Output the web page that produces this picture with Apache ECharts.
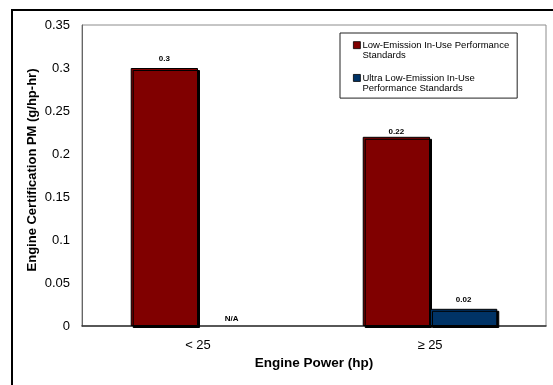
<!DOCTYPE html>
<html>
<head>
<meta charset="utf-8">
<script src="https://cdn.jsdelivr.net/npm/echarts@6/dist/echarts.min.js"></script>
<style>html,body{margin:0;padding:0;background:#fff}#c{width:553px;height:385px}</style>
</head>
<body>
<div id="c"></div>
<script>
const categories = ['< 25', '≥ 25'];
const seriesNames = ['Low-Emission In-Use Performance Standards', 'Ultra Low-Emission In-Use Performance Standards'];
const lowValues = [0.3, 0.22];
const lowLabels = ['0.3', '0.22'];
const ultraValues = [0, 0.02];
const ultraLabels = ['N/A', '0.02'];
const yTicks = { min: 0, max: 0.35, interval: 0.05 };

const FONT = "'Liberation Sans', Arial, sans-serif";
const chart = echarts.init(document.getElementById('c'));

const barStyle = (color) => ({
  color: color, borderColor: '#000', borderWidth: 1,
  shadowColor: '#000', shadowOffsetX: 2, shadowOffsetY: 2, shadowBlur: 0
});
const lblStyle = { show: true, position: 'top', distance: 5, color: '#000', fontSize: 8, fontWeight: 'bold', fontFamily: FONT };

chart.setOption({
  animation: false,
  backgroundColor: '#fff',
  graphic: [{
    type: 'rect', shape: { x: 12, y: 10, width: 700, height: 500 },
    style: { fill: 'none', stroke: '#000', lineWidth: 2 }, silent: true, z: 100
  }],
  grid: { left: 82, top: 25, right: 7, bottom: 59, show: true, borderColor: '#8c8c8c', borderWidth: 1, backgroundColor: '#fff' },
  legend: {
    orient: 'vertical', left: 340, top: 33, width: 181,
    backgroundColor: '#fff', borderColor: '#222', borderWidth: 1,
    padding: [6.5, 8, 4, 13], itemWidth: 7, itemHeight: 21, itemGap: 11,
    icon: 'path://M0,1.75H7V8.75H0Z M0,0L0,0 M0,21L0,21',
    data: seriesNames,
    formatter: (n) => n === seriesNames[0] ? 'Low-Emission In-Use Performance\nStandards' : 'Ultra Low-Emission In-Use\nPerformance Standards',
    textStyle: { fontFamily: FONT, fontSize: 9.5, color: '#000', lineHeight: 10.5, padding: [0, 0, 0, -3] },
    itemStyle: { borderColor: '#000', borderWidth: 0.8 }
  },
  xAxis: {
    type: 'category', data: categories,
    axisLine: { lineStyle: { color: '#333', width: 1.5 } },
    axisTick: { show: false },
    axisLabel: { color: '#000', fontSize: 13, fontFamily: FONT, margin: 13 },
    name: 'Engine Power (hp)', nameLocation: 'middle', nameGap: 30, nameMoveOverlap: false,
    nameTextStyle: { color: '#000', fontSize: 13.5, fontWeight: 'bold', fontFamily: FONT }
  },
  yAxis: {
    type: 'value', min: yTicks.min, max: yTicks.max, interval: yTicks.interval,
    axisLine: { show: true, lineStyle: { color: '#666', width: 1 } },
    axisTick: { show: false },
    splitLine: { show: false },
    axisLabel: { color: '#000', fontSize: 13, fontFamily: FONT, margin: 12 },
    name: 'Engine Certification PM (g/hp-hr)', nameLocation: 'middle', nameGap: 43, nameMoveOverlap: false,
    nameTextStyle: { color: '#000', fontSize: 13, fontWeight: 'bold', fontFamily: FONT, padding: [0, 0, 0, 11] }
  },
  series: [
    {
      name: seriesNames[0], type: 'bar', barGap: '0%', barCategoryGap: '42%',
      itemStyle: barStyle('#800000'),
      label: Object.assign({}, lblStyle, { formatter: (p) => lowLabels[p.dataIndex] }),
      data: lowValues.map((v, i) => i === 1 ? { value: v, label: { distance: 1 } } : v)
    },
    {
      name: seriesNames[1], type: 'bar', barGap: '0%', barCategoryGap: '42%',
      itemStyle: barStyle('#003366'),
      label: Object.assign({}, lblStyle, { formatter: (p) => ultraLabels[p.dataIndex] }),
      data: ultraValues.map((v) => v === 0 ? { value: v, label: { distance: 3 }, itemStyle: { color: 'transparent', borderColor: 'transparent', borderWidth: 0, shadowColor: 'transparent' } } : v)
    }
  ]
});
</script>
</body>
</html>
